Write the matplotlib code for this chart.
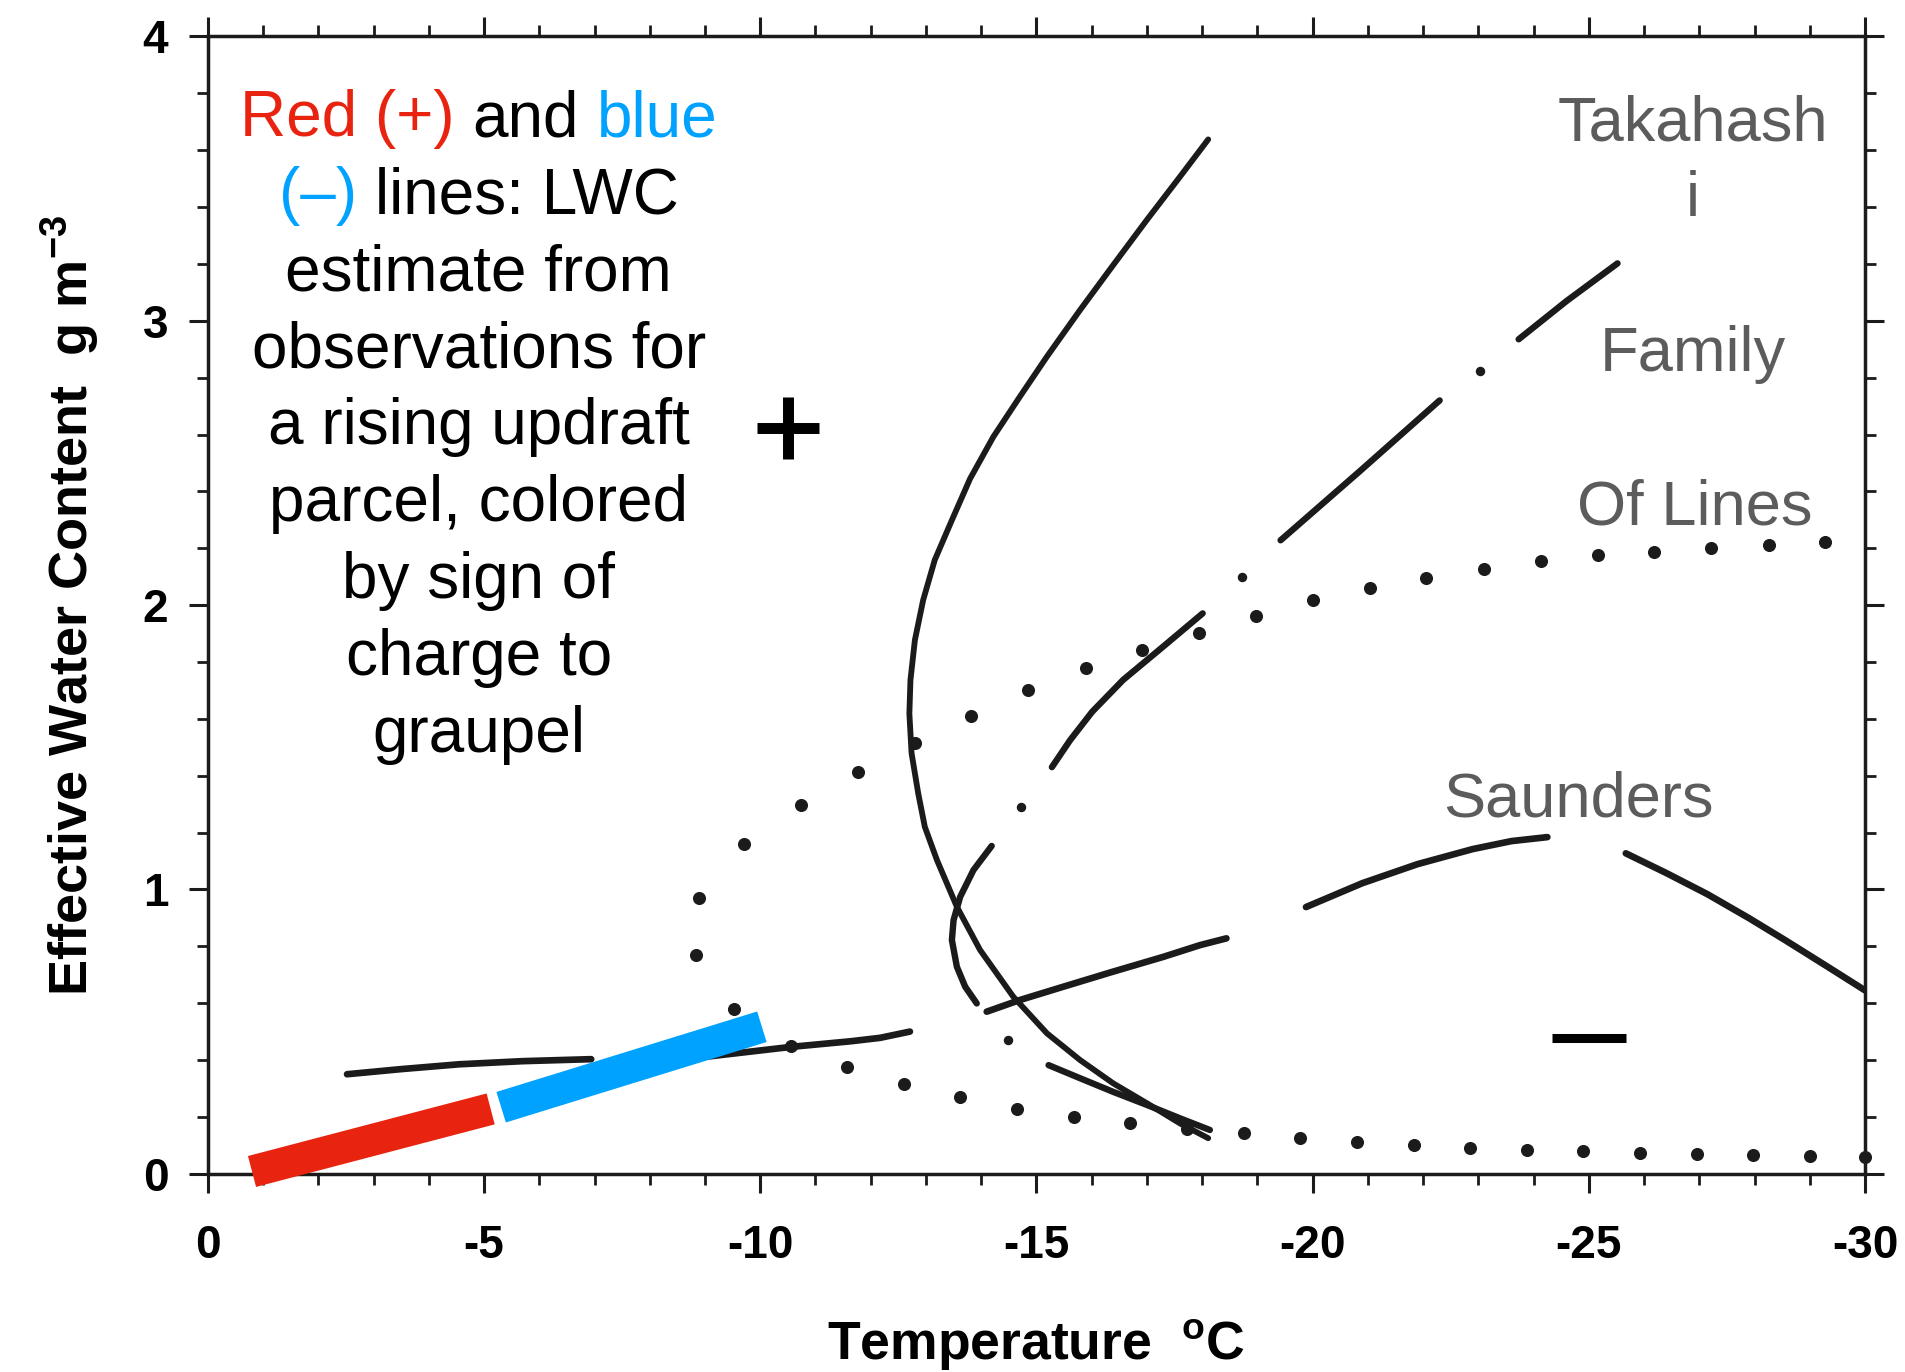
import matplotlib
matplotlib.use("Agg")
import matplotlib.pyplot as plt
from matplotlib import font_manager, transforms
from matplotlib.ticker import MultipleLocator

# ---- data (temperature in degC, LWC in g m-3) ----
# Takahashi curve (solid)
tak_t = [-18.11, -17.60, -17.00, -16.39, -15.79, -15.19, -14.70, -14.22, -13.80, -13.47,
         -13.16, -12.95, -12.80, -12.72, -12.70, -12.74, -12.86, -12.98, -13.20, -13.56,
         -13.98, -14.58, -15.19, -15.79, -16.39, -17.00, -17.60, -18.11]
tak_y = [3.638, 3.507, 3.355, 3.196, 3.038, 2.874, 2.733, 2.592, 2.445, 2.299,
         2.159, 2.018, 1.877, 1.737, 1.619, 1.479, 1.338, 1.220, 1.103, 0.939,
         0.787, 0.623, 0.494, 0.400, 0.318, 0.248, 0.177, 0.125]

# dotted curve
dot_t = [-29.28, -28.26, -27.22, -26.18, -25.16, -24.13, -23.10, -22.06, -21.03, -20.01,
         -18.98, -17.94, -16.92, -15.89, -14.85, -13.82, -12.81, -11.77, -10.74, -9.71,
         -8.89, -8.84, -9.52, -10.55, -11.57, -12.60, -13.62, -14.65, -15.68, -16.70,
         -17.73, -18.75, -19.78, -20.80, -21.83, -22.85, -23.88, -24.90, -25.93, -26.95,
         -27.98, -29.00, -30.00]
dot_y = [2.221, 2.213, 2.200, 2.186, 2.177, 2.154, 2.126, 2.095, 2.059, 2.017,
         1.961, 1.902, 1.842, 1.778, 1.702, 1.611, 1.514, 1.412, 1.297, 1.160,
         0.969, 0.771, 0.578, 0.451, 0.377, 0.317, 0.269, 0.229, 0.199, 0.178,
         0.159, 0.142, 0.127, 0.113, 0.101, 0.092, 0.083, 0.079, 0.074, 0.071,
         0.066, 0.062, 0.059]

# dash-dot curve: visible dashes and the small dots between them
fam_dash_t = [[-25.52, -24.60, -23.73],
              [-22.30, -20.86, -19.42],
              [-18.01, -17.30, -16.57, -16.01, -15.61, -15.28],
              [-14.19, -13.86, -13.62, -13.50, -13.47, -13.56, -13.71, -13.92],
              [-15.22, -15.79, -16.39, -17.00, -17.60, -18.14]]
fam_dash_y = [[3.202, 3.070, 2.935],
              [2.720, 2.472, 2.228],
              [1.971, 1.855, 1.737, 1.625, 1.525, 1.430],
              [1.153, 1.068, 0.974, 0.892, 0.822, 0.728, 0.658, 0.599],
              [0.382, 0.336, 0.288, 0.242, 0.195, 0.154]]
fam_dot_t = [-23.03, -18.72, -14.72, -14.49]
fam_dot_y = [2.825, 2.100, 1.291, 0.470]

# Saunders curve: long dashes
sau_t = [[-2.52, -3.50, -4.55, -5.70, -6.94],
         [-8.60, -10.55, -11.64, -12.17, -12.71],
         [-14.10, -14.70, -15.49, -16.39, -17.30, -17.96, -18.44],
         [-19.88, -20.90, -21.90, -22.90, -23.60, -24.25],
         [-25.67, -26.40, -27.15, -27.90, -28.56, -29.30, -30.00]]
sau_y = [[0.350, 0.368, 0.385, 0.396, 0.403],
         [0.402, 0.446, 0.466, 0.478, 0.500],
         [0.570, 0.611, 0.658, 0.711, 0.763, 0.804, 0.828],
         [0.938, 1.022, 1.089, 1.142, 1.170, 1.184],
         [1.127, 1.058, 0.983, 0.899, 0.821, 0.731, 0.645]]

# LWC estimate for a rising parcel, split by sign of graupel charge
red_t = [-0.80, -5.12]
red_y = [0.008, 0.228]
blue_t = [-5.31, -10.03]
blue_y = [0.234, 0.517]

xticks = [0, -5, -10, -15, -20, -25, -30]
xticklabels = ['0', '-5', '-10', '-15', '-20', '-25', '-30']
yticks = [0, 1, 2, 3, 4]
yticklabels = ['0', '1', '2', '3', '4']

RED = '#E8230F'
BLUE = '#00A2FF'
LINE = '#1b1b1b'
GRAY = '#5c5c5c'

names = {f.name for f in font_manager.fontManager.ttflist}
FONT = 'Liberation Sans' if 'Liberation Sans' in names else 'DejaVu Sans'
plt.rcParams['font.family'] = [FONT, 'DejaVu Sans']
plt.rcParams['axes.unicode_minus'] = False
plt.rcParams['mathtext.fontset'] = 'custom'
plt.rcParams['mathtext.rm'] = FONT
plt.rcParams['mathtext.bf'] = FONT + ':bold'

fig = plt.figure(figsize=(19.05, 13.72), dpi=100)
ax = fig.add_axes([0.1091, 0.1445, 0.8699, 0.8289])

ax.plot(tak_t, tak_y, color=LINE, lw=4.2, solid_capstyle='round',
        solid_joinstyle='round', zorder=3)
for t, y in zip(fam_dash_t, fam_dash_y):
    ax.plot(t, y, color=LINE, lw=4.6, solid_capstyle='round',
            solid_joinstyle='round', zorder=3)
ax.plot(fam_dot_t, fam_dot_y, 'o', ms=5.8, color=LINE, zorder=3)
for t, y in zip(sau_t, sau_y):
    ax.plot(t, y, color=LINE, lw=4.8, solid_capstyle='round',
            solid_joinstyle='round', zorder=3)
ax.plot(dot_t, dot_y, 'o', ms=8.4, color=LINE, clip_on=False, zorder=3)

ax.plot(red_t, red_y, color=RED, lw=23, solid_capstyle='butt', clip_on=False, zorder=6)
ax.plot(blue_t, blue_y, color=BLUE, lw=23, solid_capstyle='butt', clip_on=False, zorder=6)

# sign symbols
ax.plot([-10.51], [2.622], marker='+', ms=44.4, mew=7.9, color='black', ls='none')
ax.plot([-25.01], [0.478], marker='_', ms=53.5, mew=6.5, color='black', ls='none')

ax.set_xlim(0, -30)
ax.set_ylim(0, 4)
ax.set_xticks(xticks)
ax.set_xticklabels(xticklabels)
ax.set_yticks(yticks)
ax.set_yticklabels(yticklabels)
ax.xaxis.set_minor_locator(MultipleLocator(1))
ax.yaxis.set_minor_locator(MultipleLocator(0.2))
ax.tick_params(which='both', direction='out', top=True, right=True,
               labeltop=False, labelright=False, color='#1b1b1b')
ax.tick_params(which='major', length=13.5, width=2.2, labelsize=33)
ax.tick_params(which='minor', length=8, width=2.0)
ax.tick_params(axis='x', which='major', pad=23)
ax.tick_params(axis='y', which='major', pad=15)
for lab in ax.get_xticklabels() + ax.get_yticklabels():
    lab.set_fontweight('bold')
for s in ax.spines.values():
    s.set_linewidth(2.5)
    s.set_color('#1b1b1b')

ax.set_xlabel('Temperature  $^{\\mathbf{o}}$C', fontsize=38.5, fontweight='bold')
ax.xaxis.set_label_coords(0.5, -0.126)
ax.set_ylabel('Effective Water Content  g m$^{\\mathbf{-3}}$', fontsize=39, fontweight='bold')
ax.yaxis.set_label_coords(-0.0644, 0.5)

# gray curve names
for s, tx, ty in [('Takahash', -26.89, 3.634), ('i', -26.89, 3.367),
                  ('Family', -26.89, 2.825), ('Of Lines', -26.92, 2.283),
                  ('Saunders', -24.82, 1.256)]:
    ax.text(tx, ty, s, fontsize=45.5, color=GRAY, ha='center', va='baseline')

# explanatory note, centred lines with coloured words
note = [[('Red (+)', RED), ('and', 'black'), ('blue', BLUE)],
        [('(\u2013)', BLUE), ('lines: LWC', 'black')],
        [('estimate from', 'black')],
        [('observations for', 'black')],
        [('a rising updraft', 'black')],
        [('parcel, colored', 'black')],
        [('by sign of', 'black')],
        [('charge to', 'black')],
        [('graupel', 'black')]]
note_x = -4.905
note_y0 = 3.649
note_dy = 0.2708
fs = 46

fig.canvas.draw()
rend = fig.canvas.get_renderer()


def text_w(s):
    t = ax.text(0, 0, s, fontsize=fs)
    w = t.get_window_extent(rend).width
    t.remove()
    return w


for i, parts in enumerate(note):
    y = note_y0 - i * note_dy
    words = [p[0] for p in parts]
    full_w = text_w(' '.join(words))
    for j, (s, c) in enumerate(parts):
        off = text_w(' '.join(words[:j + 1])) - text_w(s) - full_w / 2
        tr = transforms.offset_copy(ax.transData, fig, x=off, y=0, units='dots')
        ax.text(note_x, y, s, fontsize=fs, color=c, ha='left', va='baseline', transform=tr)

fig.savefig('out.png', dpi=100)
